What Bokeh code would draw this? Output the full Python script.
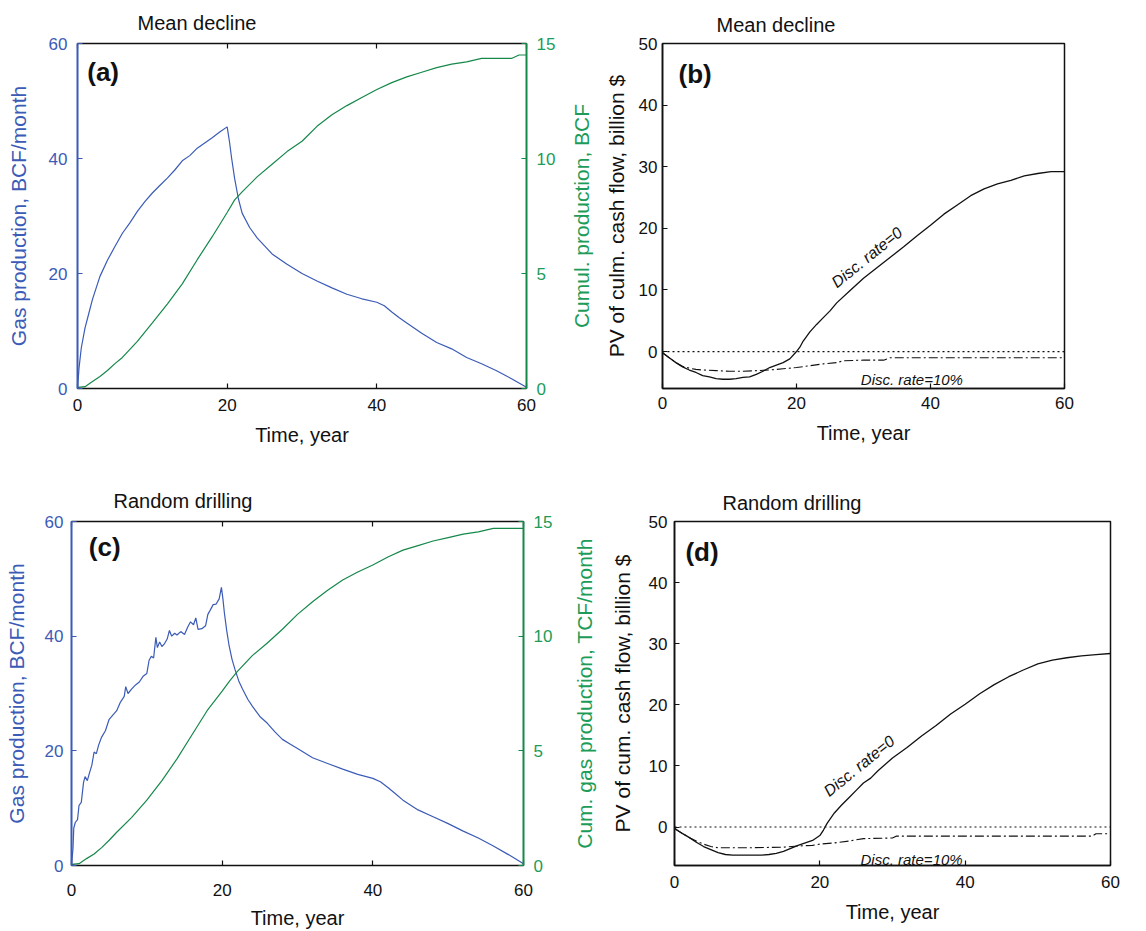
from bokeh.plotting import figure
from bokeh.models import Range1d, LinearAxis, FixedTicker, Span, Label, Title
from bokeh.layouts import column, row
from bokeh.embed import file_html
from bokeh.resources import INLINE

# ---------------- data ----------------
# (a) mean decline: monthly gas production (BCF/month) and cumulative production (BCF)
t_gas_a = [0, 0.2, 0.5, 1, 1.5, 2, 2.5, 3, 4, 5, 6, 7, 8, 9, 10, 11, 12, 13, 14, 15, 16, 17,
           18, 19, 20, 20.3, 20.6, 21, 21.5, 22, 23, 24, 25, 26, 28, 30, 32, 34, 36, 38, 40,
           41, 42, 43, 44, 46, 48, 50, 52, 54, 56, 58, 60]
gas_a = [0, 3.5, 7, 10.5, 13, 15.5, 17.5, 19.5, 22.3, 24.7, 27, 28.8, 30.8, 32.5, 34, 35.3,
         36.6, 38, 39.6, 40.5, 41.8, 42.7, 43.6, 44.6, 45.5, 43, 40, 36.5, 33, 30.5, 28, 26.2,
         24.8, 23.4, 21.6, 20, 18.7, 17.5, 16.4, 15.6, 15.0, 14.4, 13.3, 12.3, 11.4, 9.6, 8.0,
         6.9, 5.4, 4.3, 3.1, 1.7, 0.2]
t_cum_a = [0, 1, 2, 3, 4, 5, 6, 8, 10, 12, 14, 16, 18, 20, 21, 22, 24, 26, 28, 30, 32, 34, 36,
           38, 40, 42, 44, 46, 48, 50, 52, 54, 56, 58, 59, 60]
cum_a = [0.05, 0.08, 0.3, 0.52, 0.78, 1.08, 1.35, 2.05, 2.85, 3.67, 4.55, 5.6, 6.6, 7.65, 8.2,
         8.55, 9.2, 9.75, 10.3, 10.75, 11.4, 11.9, 12.3, 12.65, 13.0, 13.3, 13.55, 13.75,
         13.95, 14.1, 14.2, 14.35, 14.35, 14.35, 14.5, 14.5]

# (b) mean decline: PV of cumulative cash flow (billion $)
t_pv0_b = [0, 1, 2, 3, 4, 5, 6, 7, 8, 9, 10, 11, 12, 13, 14, 15, 16, 17, 18, 19, 20, 20.5, 21,
           22, 23, 24, 25, 26, 28, 30, 32, 34, 36, 38, 40, 42, 44, 46, 48, 50, 52, 54, 56, 58, 60]
pv0_b = [-0.2, -1.0, -1.8, -2.5, -3.0, -3.4, -3.9, -4.1, -4.4, -4.5, -4.5, -4.4, -4.2, -4.1,
         -3.7, -3.2, -2.6, -2.2, -1.8, -1.2, 0, 0.7, 1.7, 3.2, 4.4, 5.5, 6.6, 7.9, 9.9, 11.9,
         13.6, 15.3, 17.0, 18.8, 20.5, 22.3, 23.8, 25.3, 26.4, 27.2, 27.8, 28.5, 28.9, 29.2, 29.2]
t_pv10_b = [0, 1, 2, 3, 4, 5, 6, 8, 10, 12, 14, 16, 18, 20, 22, 24, 26, 27, 30, 33, 34, 60]
pv10_b = [-0.2, -1.0, -1.8, -2.4, -2.7, -2.9, -3.0, -3.1, -3.2, -3.2, -3.1, -3.0, -2.8, -2.6,
          -2.3, -2.0, -1.8, -1.5, -1.4, -1.4, -1.0, -1.0]

# (c) random drilling: monthly gas production and cumulative production
t_gas_c = [0, 0.2, 0.3, 0.5, 0.8, 1, 1.3, 1.6, 1.8, 2.1, 2.4, 2.7, 3.0, 3.3, 3.6, 4, 4.5, 5,
           5.4, 6, 6.5, 7, 7.2, 7.5, 8, 8.5, 9, 9.5, 10, 10.3, 10.6, 10.9, 11.2, 11.4, 11.7, 12,
           12.3, 12.7, 13, 13.3, 13.7, 14, 14.5, 15, 15.4, 15.8, 16.2, 16.5, 16.8, 17.3, 17.8,
           18.1, 18.4, 18.8, 19.2, 19.6, 19.9, 20.1, 20.3, 20.6, 20.9, 21.3, 21.7, 22.2, 22.7,
           23.4, 24, 25, 26, 27, 28, 29, 30, 32, 34, 36, 38, 40, 41, 42, 43, 44, 46, 48, 50,
           52, 54, 56, 58, 60]
gas_c = [0, 3, 6.5, 7.5, 8, 10.5, 11, 14.5, 15.5, 14.8, 16.2, 17.5, 19.8, 19.5, 21, 22.4, 23.5,
         25.5, 26.1, 27, 28.5, 29.5, 31.2, 30, 30.8, 31.5, 32, 33, 33.5, 35.8, 36.5, 36.2, 39.8,
         38, 39, 38.2, 38.6, 39.5, 41, 40, 40.5, 40.2, 40.8, 40.3, 41.5, 42.5, 42, 43.2, 41.2,
         41.3, 41.8, 43.8, 44.5, 45.5, 45.6, 46.5, 48.5, 46.5, 44, 41, 38.5, 36, 34.2, 32.2,
         30.8, 29, 27.8, 26, 24.8, 23.3, 22, 21.2, 20.4, 18.8, 17.8, 16.8, 15.9, 15.2, 14.6,
         13.6, 12.5, 11.4, 9.7, 8.5, 7.3, 6.0, 4.8, 3.4, 1.9, 0.3]
t_cum_c = [0, 1, 2, 3, 4, 5, 6, 8, 10, 12, 14, 16, 18, 20, 21, 22, 24, 26, 28, 30, 32, 34, 36,
           38, 40, 42, 44, 46, 48, 50, 52, 54, 56, 58, 60]
cum_c = [0.05, 0.08, 0.3, 0.5, 0.78, 1.1, 1.45, 2.1, 2.85, 3.7, 4.65, 5.7, 6.75, 7.6, 8.05,
         8.45, 9.15, 9.7, 10.3, 10.95, 11.5, 12.0, 12.45, 12.8, 13.1, 13.45, 13.75, 13.95,
         14.15, 14.3, 14.45, 14.55, 14.7, 14.7, 14.7]

# (d) random drilling: PV of cumulative cash flow (billion $)
t_pv0_d = [0, 0.3, 1, 2, 3, 4, 5, 6, 7, 8, 10, 12, 13, 14, 15, 16, 17, 18, 19, 20, 20.5, 21,
           22, 23, 24, 25, 26, 27, 28, 30, 32, 34, 36, 38, 40, 42, 44, 46, 48, 50, 52, 54, 56,
           58, 60]
pv0_d = [-0.2, -0.5, -1.0, -1.7, -2.5, -3.2, -3.7, -4.2, -4.5, -4.6, -4.6, -4.6, -4.5, -4.3,
         -4.0, -3.5, -3.0, -2.6, -2.2, -1.4, -0.5, 0.6, 2.3, 3.6, 4.8, 6.0, 7.2, 8.0, 9.2, 11.3,
         13.0, 14.9, 16.6, 18.5, 20.1, 21.8, 23.3, 24.6, 25.7, 26.7, 27.3, 27.7, 28.0, 28.2, 28.4]
t_pv10_d = [0, 1, 2, 3, 4, 5, 6, 10, 15, 17, 19, 20, 22, 24, 25, 26, 30, 30.5, 57.5, 58, 60]
pv10_d = [-0.2, -1.0, -1.7, -2.3, -2.8, -3.2, -3.4, -3.4, -3.3, -3.1, -3.0, -2.8, -2.6, -2.3,
          -2.1, -1.9, -1.8, -1.5, -1.5, -1.1, -1.1]

x_ticks = [0, 20, 40, 60]
gas_ticks = [0, 20, 40, 60]
cum_ticks = [0, 5, 10, 15]
pv_ticks = [0, 10, 20, 30, 40, 50]
zero_level = 0

# ---------------- style ----------------
FONT = "Liberation Sans"
BLUE = "#3b5bb6"
GREEN = "#15884a"
GREEN_TEXT = "#1c9c58"
BLACK = "#111111"
TICK_SIZE = "17px"
AXIS_TITLE_SIZE = "21px"


def style_axis(ax, color, ticks, label_color=None, label_standoff=8, title_standoff=10,
               width=1.6, title=None):
    label_color = label_color or color
    ax.ticker = FixedTicker(ticks=ticks)
    ax.axis_line_color = color
    ax.axis_line_width = width
    ax.major_tick_line_color = color
    ax.major_tick_line_width = 1.2
    ax.major_tick_in = 5
    ax.major_tick_out = 0
    ax.minor_tick_line_color = None
    ax.major_label_text_color = label_color
    ax.major_label_text_font = FONT
    ax.major_label_text_font_size = TICK_SIZE
    ax.major_label_standoff = label_standoff
    if title is not None:
        ax.axis_label = title
        ax.axis_label_text_color = label_color
        ax.axis_label_text_font = FONT
        ax.axis_label_text_font_size = AXIS_TITLE_SIZE
        ax.axis_label_text_font_style = "normal"
        ax.axis_label_standoff = title_standoff


def base_figure(width, height, borders, y_range, title, title_offset, title_standoff):
    left, right, top, bottom = borders
    p = figure(width=width, height=height, x_range=Range1d(0, 60), y_range=y_range,
               output_backend="svg", toolbar_location=None, title=title,
               min_border_left=left, min_border_right=right,
               min_border_top=top, min_border_bottom=bottom)
    p.xgrid.visible = False
    p.ygrid.visible = False
    p.background_fill_color = "white"
    p.border_fill_color = "white"
    p.title.align = "left"
    p.title.offset = title_offset
    p.title.standoff = title_standoff
    p.title.text_font = FONT
    p.title.text_font_size = "20px"
    p.title.text_font_style = "normal"
    p.title.text_color = BLACK
    return p


def panel_letter(p, text, x, y):
    p.add_layout(Label(x=x, y=y, text=text, text_font=FONT, text_font_size="26px",
                       text_font_style="bold", text_color=BLACK, text_baseline="middle",
                       text_align="left"))


def production_panel(width, height, borders, t_gas, gas, t_cum, cum, left_title, title,
                     title_offset, title_standoff, letter, letter_xy, x_label_standoff,
                     x_title_standoff, l_std, r_std):
    p = base_figure(width, height, borders, Range1d(0, 60), title, title_offset,
                    title_standoff)
    p.outline_line_color = None
    p.extra_y_ranges = {"cum": Range1d(0, 15)}

    style_axis(p.xaxis[0], BLACK, x_ticks, label_standoff=x_label_standoff,
               title_standoff=x_title_standoff, title="Time, year")
    p.xaxis[0].axis_label_text_font_size = "20px"
    style_axis(p.yaxis[0], BLUE, gas_ticks, label_standoff=l_std[0],
               title_standoff=l_std[1], width=2.0, title=left_title)

    # secondary scale for the cumulative curve
    right_ax = LinearAxis(y_range_name="cum")
    style_axis(right_ax, GREEN, cum_ticks, label_color=GREEN_TEXT, label_standoff=r_std,
               width=2.0)
    p.add_layout(right_ax, "right")

    # tick marks only along the top edge
    top_ax = LinearAxis()
    style_axis(top_ax, BLACK, x_ticks, label_standoff=0)
    top_ax.major_label_text_font_size = "1px"
    top_ax.major_label_text_color = None
    p.add_layout(top_ax, "above")

    p.line(t_gas, gas, line_color=BLUE, line_width=1.2)
    p.line(t_cum, cum, line_color=GREEN, line_width=1.2, y_range_name="cum")
    panel_letter(p, letter, *letter_xy)
    return p


def cashflow_panel(width, height, borders, y_range, t0, pv0, t10, pv10, y_title, title,
                   title_offset, title_standoff, letter, letter_xy, rate0_xy, rate10_xy,
                   x_label_standoff, x_title_standoff, y_std, cum_title, cum_standoff):
    p = base_figure(width, height, borders, y_range, title, title_offset, title_standoff)
    p.outline_line_color = BLACK
    p.outline_line_width = 1.5
    style_axis(p.xaxis[0], BLACK, x_ticks, label_standoff=x_label_standoff,
               title_standoff=x_title_standoff, title="Time, year")
    p.xaxis[0].axis_label_text_font_size = "20px"
    style_axis(p.yaxis[0], BLACK, pv_ticks, label_standoff=y_std[0],
               title_standoff=y_std[1], title=y_title)

    # title of the neighbouring cumulative-production scale (reads bottom-to-top)
    p.add_layout(Title(text=cum_title, align="center", standoff=cum_standoff,
                       text_font=FONT, text_font_size=AXIS_TITLE_SIZE,
                       text_font_style="normal", text_color=GREEN_TEXT), "left")

    p.add_layout(Span(location=zero_level, dimension="width", line_color=BLACK,
                      line_width=1.2, line_dash="2 3"))
    p.line(t0, pv0, line_color=BLACK, line_width=1.3)
    p.line(t10, pv10, line_color=BLACK, line_width=1.1, line_dash="9 3 2 3")

    p.add_layout(Label(x=rate0_xy[0], y=rate0_xy[1], text="Disc. rate=0", angle=39,
                       angle_units="deg", text_font=FONT, text_font_size="16px",
                       text_font_style="italic", text_color=BLACK, text_align="center",
                       text_baseline="middle"))
    p.add_layout(Label(x=rate10_xy[0], y=rate10_xy[1], text="Disc. rate=10%",
                       text_font=FONT, text_font_size="15px", text_font_style="italic",
                       text_color=BLACK, text_align="left", text_baseline="middle"))
    panel_letter(p, letter, *letter_xy)
    return p


pa = production_panel(558, 465, (77, 31, 43, 77), t_gas_a, gas_a, t_cum_a, cum_a,
                      "Gas production, BCF/month", "Mean decline", 60, 19, "(a)",
                      (1.3, 55.0), 10, 10, (10, 16), 10)
pb = cashflow_panel(588, 465, (103, 82, 43, 77), Range1d(-6.0, 50), t_pv0_b, pv0_b,
                    t_pv10_b, pv10_b, "PV of culm. cash flow, billion $", "Mean decline",
                    54, 15, "(b)", (2.4, 45.1), (30.5, 15.3), (29.6, -4.5), 8, 10, (5, 8),
                    "Cumul. production, BCF", 18)
pc = production_panel(558, 466, (71, 35, 56, 63), t_gas_c, gas_c, t_cum_c, cum_c,
                      "Gas production, BCF/month", "Random drilling", 42, 19, "(c)",
                      (2.3, 55.5), 18, 8, (8, 14), 10)
pd_ = cashflow_panel(588, 466, (116, 36, 56, 63), Range1d(-6.3, 50), t_pv0_d, pv0_d,
                     t_pv10_d, pv10_d, "PV of cum. cash flow, billion $", "Random drilling",
                     48, 16, "(d)", (1.5, 45.0), (25.4, 10.0), (25.6, -5.3), 10, 10, (7, 12),
                     "Cum. gas production, TCF/month", 23)

layout = column(row(pa, pb), row(pc, pd_))

open("out.html", "w").write(file_html(layout, INLINE))
